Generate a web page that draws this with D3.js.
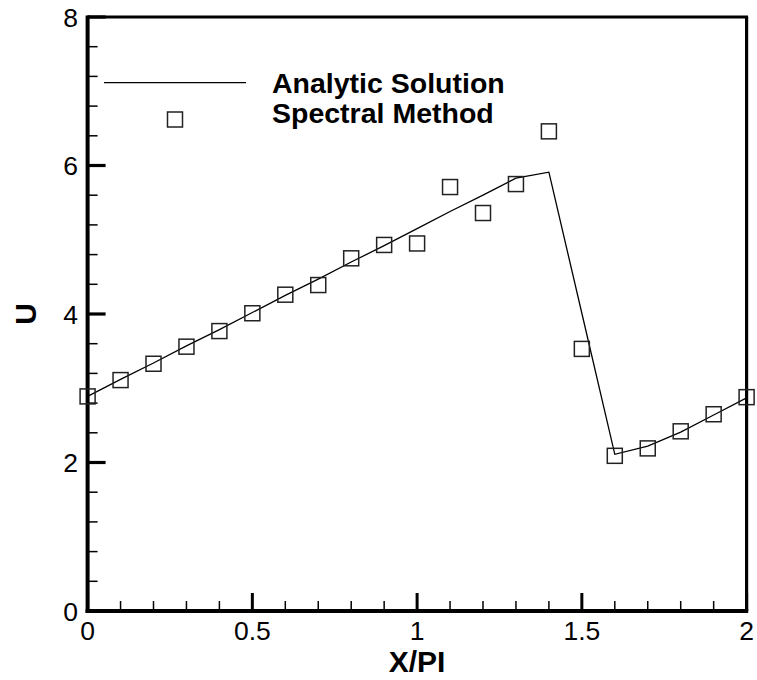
<!DOCTYPE html>
<html>
<head>
<meta charset="utf-8">
<script src="https://cdn.jsdelivr.net/npm/d3@7"></script>
<style>
  html, body { margin: 0; padding: 0; background: #fff; }
  svg { display: block; font-family: "Liberation Sans", Arial, Helvetica, sans-serif; }
</style>
</head>
<body>
<svg id="chart" width="757" height="680"></svg>
<script>
// ---- Data ----
const analyticX = [0, 0.1, 0.2, 0.3, 0.4, 0.5, 0.6, 0.7, 0.8, 0.9, 1.0, 1.1, 1.2, 1.3, 1.4, 1.5, 1.6, 1.7, 1.8, 1.9, 2.0];
const analyticU = [2.89, 3.12, 3.34, 3.57, 3.79, 4.02, 4.25, 4.47, 4.70, 4.92, 5.15, 5.38, 5.60, 5.83, 5.91, 4.01, 2.11, 2.22, 2.41, 2.64, 2.87];
const spectralX = [0, 0.1, 0.2, 0.3, 0.4, 0.5, 0.6, 0.7, 0.8, 0.9, 1.0, 1.1, 1.2, 1.3, 1.4, 1.5, 1.6, 1.7, 1.8, 1.9, 2.0];
const spectralU = [2.89, 3.11, 3.33, 3.56, 3.77, 4.01, 4.26, 4.39, 4.75, 4.93, 4.95, 5.71, 5.36, 5.75, 6.46, 3.53, 2.09, 2.19, 2.42, 2.65, 2.88];
const xMajorTicks = [0, 0.5, 1, 1.5, 2];
const xTickLabels = ["0", "0.5", "1", "1.5", "2"];
const yMajorTicks = [0, 2, 4, 6, 8];
const yTickLabels = ["0", "2", "4", "6", "8"];
const legendLabels = ["Analytic Solution", "Spectral Method"];
const xTitle = "X/PI";
const yTitle = "U";

// ---- Layout ----
const pLeft = 87.6, pRight = 746.6, pTop = 17, pBottom = 611;
const svg = d3.select("#chart");
const x = d3.scaleLinear().domain([0, 2]).range([pLeft, pRight]);
const y = d3.scaleLinear().domain([0, 8]).range([pBottom, pTop]);

// Minor ticks
const xMinor = d3.range(0, 2.0001, 0.1).filter(v => Math.abs(v * 2 - Math.round(v * 2)) > 1e-6);
const yMinor = d3.range(0, 8.0001, 0.4).filter(v => Math.abs(v / 2 - Math.round(v / 2)) > 1e-6);

const g = svg.append("g");

// Bottom axis ticks (inward)
g.selectAll(".xminor").data(xMinor).join("line")
  .attr("x1", d => x(d)).attr("x2", d => x(d))
  .attr("y1", pBottom).attr("y2", pBottom - 10)
  .attr("stroke", "#000").attr("stroke-width", 1.5);
g.selectAll(".xmajor").data(xMajorTicks).join("line")
  .attr("x1", d => x(d)).attr("x2", d => x(d))
  .attr("y1", pBottom).attr("y2", pBottom - 18)
  .attr("stroke", "#000").attr("stroke-width", 3);

// Left axis ticks (inward)
g.selectAll(".yminor").data(yMinor).join("line")
  .attr("x1", pLeft).attr("x2", pLeft + 10)
  .attr("y1", d => y(d)).attr("y2", d => y(d))
  .attr("stroke", "#000").attr("stroke-width", 1.5);
g.selectAll(".ymajor").data(yMajorTicks).join("line")
  .attr("x1", pLeft).attr("x2", pLeft + 18)
  .attr("y1", d => y(d)).attr("y2", d => y(d))
  .attr("stroke", "#000").attr("stroke-width", 3.2);

// Frame
g.append("line").attr("x1", pLeft).attr("x2", pRight + 1.5).attr("y1", pTop).attr("y2", pTop)
  .attr("stroke", "#000").attr("stroke-width", 3);
g.append("line").attr("x1", pRight).attr("x2", pRight).attr("y1", pTop).attr("y2", pBottom)
  .attr("stroke", "#000").attr("stroke-width", 3.2);
g.append("line").attr("x1", pLeft - 2).attr("x2", pRight + 1.6).attr("y1", pBottom).attr("y2", pBottom)
  .attr("stroke", "#000").attr("stroke-width", 4);
g.append("line").attr("x1", pLeft).attr("x2", pLeft).attr("y1", pTop - 1.5).attr("y2", pBottom + 2)
  .attr("stroke", "#000").attr("stroke-width", 4);

// Tick labels
g.selectAll(".xlab").data(xMajorTicks).join("text")
  .attr("x", d => x(d)).attr("y", 640)
  .attr("text-anchor", "middle").attr("font-size", 26.5)
  .text((d, i) => xTickLabels[i]);
g.selectAll(".ylab").data(yMajorTicks).join("text")
  .attr("x", 78).attr("y", d => y(d) + 9.5)
  .attr("text-anchor", "end").attr("font-size", 26.5)
  .text((d, i) => yTickLabels[i]);

// Axis titles
g.append("text").attr("x", x(1)).attr("y", 671.5)
  .attr("text-anchor", "middle").attr("font-size", 30).attr("font-weight", "bold")
  .text(xTitle);
g.append("text").attr("transform", `translate(36,${y(4)}) rotate(-90)`)
  .attr("text-anchor", "middle").attr("font-size", 30).attr("font-weight", "bold")
  .text(yTitle);

// Analytic line
const line = d3.line().x((d, i) => x(analyticX[i])).y(d => y(d));
g.append("path").datum(analyticU)
  .attr("d", line).attr("fill", "none")
  .attr("stroke", "#000").attr("stroke-width", 1.3);

// Spectral squares
const sq = 15;
g.selectAll(".sq").data(spectralU).join("rect")
  .attr("x", (d, i) => x(spectralX[i]) - sq / 2)
  .attr("y", d => y(d) - sq / 2)
  .attr("width", sq).attr("height", sq)
  .attr("fill", "none").attr("stroke", "#222").attr("stroke-width", 1.5);

// Legend
const lg = svg.append("g");
lg.append("line").attr("x1", 104).attr("x2", 246).attr("y1", 82.7).attr("y2", 82.7)
  .attr("stroke", "#000").attr("stroke-width", 1.3);
lg.append("rect").attr("x", 175 - sq / 2).attr("y", 119.5 - sq / 2)
  .attr("width", sq).attr("height", sq)
  .attr("fill", "none").attr("stroke", "#222").attr("stroke-width", 1.5);
lg.selectAll(".lt").data(legendLabels).join("text")
  .attr("x", 272).attr("y", (d, i) => 92.7 + i * 30)
  .attr("font-size", 28.5).attr("font-weight", "bold")
  .text(d => d);
</script>
</body>
</html>
